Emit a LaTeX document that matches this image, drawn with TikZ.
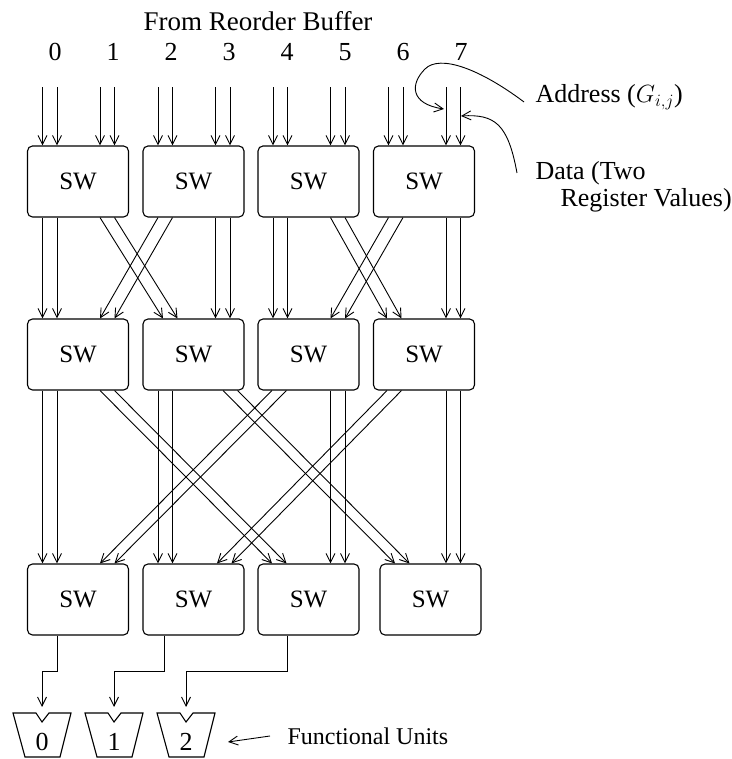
\documentclass[tikz,border=0pt]{standalone}
\usepackage{fontspec}
\setmainfont{Liberation Serif}
\usetikzlibrary{arrows.meta}

\begin{document}
\begin{tikzpicture}[
		x=1pt, y=1pt,
		font=\fontsize{24}{26}\selectfont,
		swbox/.style={rectangle,draw,rounded corners=5pt,line width=1.1pt,
			minimum width=101pt,minimum height=71pt,inner sep=0pt,
			font=\fontsize{25}{27}\selectfont},
		side/.style={font=\fontsize{26}{27}\selectfont},
		wire/.style={line width=0.9pt,-{Straight Barb[length=9pt,width=9pt]}},
		]
		\useasboundingbox (0,0) rectangle (731,759);
		% switch rows
		\foreach \i/\x in {1/78,2/193.5,3/308.5,4/424} {
			\node [swbox] (t\i) at (\x,577.5) {SW};
			\node [swbox] (m\i) at (\x,404.5) {SW};
		}
		\foreach \i/\x in {1/78,2/193.5,3/308.5,4/430.5}
			\node [swbox] (b\i) at (\x,159.5) {SW};
		% inputs
		\node [font=\fontsize{27}{28}\selectfont] (title) at (258,738) {From Reorder Buffer};
		\foreach \k in {0,...,7}
			\node [side] (n\k) at (55+58*\k,707) {\k};
		\foreach \i in {1,...,4}
			\foreach \o in {-35.5,-21,22,36.5}
				\draw [wire] ([shift={(\o pt,58pt)}]t\i.north) -- ([xshift=\o pt]t\i.north);
		% wire pairs between the stages
		\foreach \s/\a/\d/\b in {t1/-35.5/m1/-35.5, t1/22/m2/-30.5, t2/-35.5/m1/22, t2/22/m2/22,
				t3/-35.5/m3/-35.5, t3/22/m4/-37, t4/-35.5/m3/22, t4/22/m4/22,
				m1/-35.5/b1/-35.5, m1/22/b3/-36.5, m2/-35.5/b2/-35.5, m2/29.5/b4/-35.5,
				m3/-36.5/b1/22, m3/22/b3/22, m4/-37/b2/23.5, m4/22/b4/15.5}
			\foreach \w in {0,14.5}
				\draw [wire] ([xshift=\a pt+\w pt]\s.south) -- ([xshift=\b pt+\w pt]\d.north);
		% functional units
		\foreach \j in {0,1,2} {
			\node [side] (fu\j) at (42+72*\j,17) {\j};
			\draw [line width=1.1pt] (fu\j.center) ++(-29,29) -- ++(23,0) -- ++(6,-9) -- ++(7,9)
				-- ++(22,0) -- ++(-11,-44) -- ++(-35,0) -- cycle;
		}
		\foreach \i/\j/\o in {1/0/-21, 2/1/-29.5, 3/2/-21.5}
			\draw [wire] ([xshift=\o pt]b\i.south) -- ++(0,-36) -| ([yshift=35pt]fu\j.center);
		\node [anchor=west] (units) at (284,23) {Functional Units};
		\draw [wire] ([xshift=-14pt]units.west) -- ([xshift=42pt]fu2.center);
		% labels on the right
		\node [side,anchor=west] (addr) at (532,662) {Address ($G_{i,j}$)};
		\node [side,anchor=north west,align=left] (data) at (532,601) {Data (Two\\\hspace*{25pt}Register Values)};
		\coordinate (adtip) at (444,650);
		\coordinate (dttip) at (461,643);
		\draw [wire] ([shift={(-8pt,-5pt)}]addr.west) .. controls (480,690) and (440,705) .. (425,690)
			.. controls (410,675) and (410,655) .. (adtip);
		\draw [wire] ([shift={(-15pt,-15pt)}]data.north west) .. controls (508,635) and (495,645) .. (dttip);
	\end{tikzpicture}
\end{document}
